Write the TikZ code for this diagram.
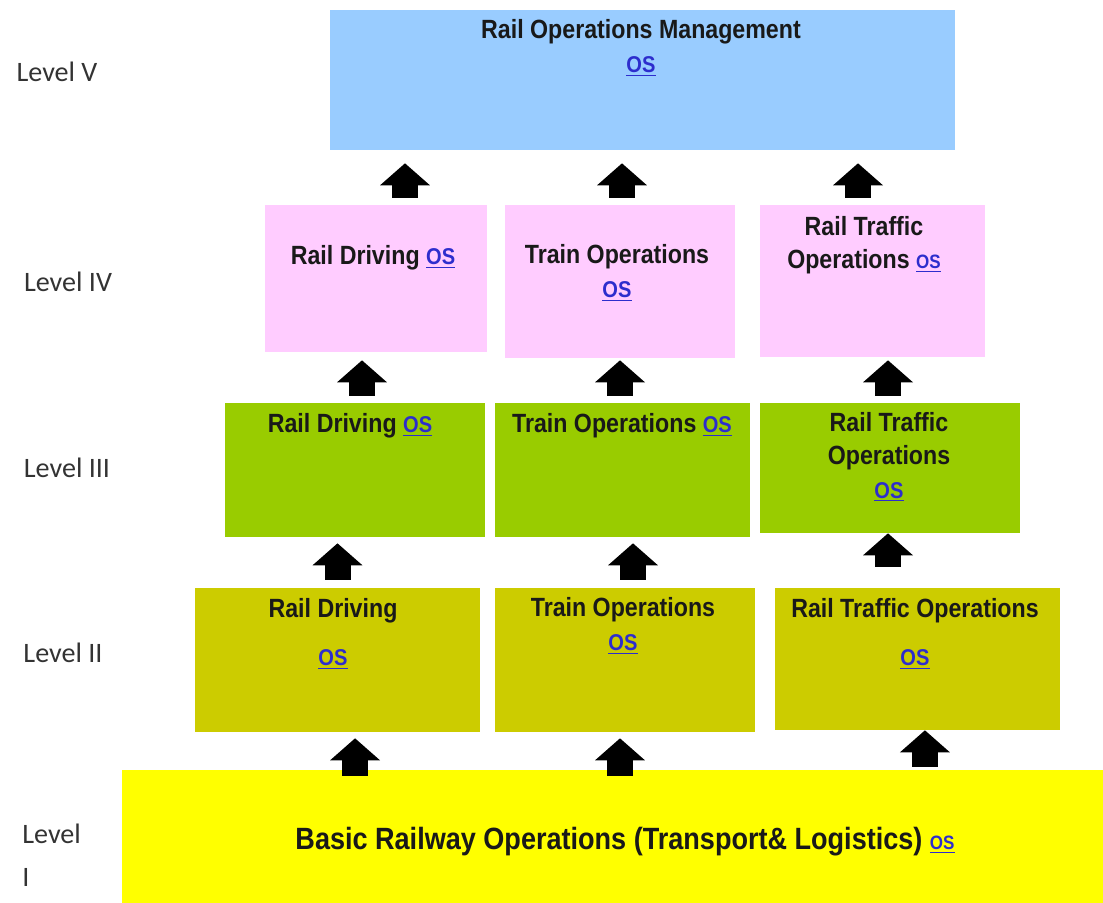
\documentclass[tikz,border=0pt]{standalone}
\usepackage{fontspec}
\setmainfont{Liberation Sans}
\newfontfamily\boxfont[FakeStretch=0.88]{Liberation Sans}
\newfontfamily\lvlfont{Carlito}
\usepackage{xcolor}
\definecolor{lvV}{RGB}{153,204,255}
\definecolor{lvIV}{RGB}{255,204,255}
\definecolor{lvIII}{RGB}{153,204,0}
\definecolor{lvII}{RGB}{204,204,0}
\definecolor{lvI}{RGB}{255,255,0}
\definecolor{oslink}{RGB}{45,45,205}
\usetikzlibrary{positioning,arrows.meta}
\newcommand{\os}{{\fontsize{13pt}{15pt}\selectfont\textcolor{oslink}{\underline{OS}}}}
\newcommand{\ossm}{{\fontsize{11pt}{13pt}\selectfont\textcolor{oslink}{\underline{OS}}}}

\begin{document}
\begin{tikzpicture}[x=0.02cm, y=-0.02cm,
  box/.style={draw=none, inner sep=0pt},
  txt/.style={font=\boxfont\bfseries\fontsize{15pt}{19pt}\selectfont, align=center, inner sep=0pt, text=black!90},
  bigtxt/.style={txt, font=\boxfont\bfseries\fontsize{17.5pt}{20pt}\selectfont},
  lvl/.style={font=\lvlfont\fontsize{16pt}{24pt}\selectfont, text=black!80, inner sep=0pt},
  blk/.style={-{Triangle[width=1cm, length=0.44cm, line width=0pt]}, line width=0.52cm, black}]
\useasboundingbox (0,0) rectangle (1103,903);
% level V
\node[box, fill=lvV, minimum width=12.5cm, minimum height=2.8cm] (rom) at (642.5,80) {};
% level IV
\node[box, fill=lvIV, minimum width=4.44cm, minimum height=2.94cm] (drvIV) at (376,278.5) {};
\node[box, fill=lvIV, minimum width=4.6cm, minimum height=3.06cm] (trnIV) at (620,281.5) {};
\node[box, fill=lvIV, minimum width=4.5cm, minimum height=3.04cm] (trfIV) at (872.5,281) {};
% level III
\node[box, fill=lvIII, minimum width=5.2cm, minimum height=2.68cm] (drvIII) at (355,470) {};
\node[box, fill=lvIII, minimum width=5.1cm, minimum height=2.68cm] (trnIII) at (622.5,470) {};
\node[box, fill=lvIII, minimum width=5.2cm, minimum height=2.6cm] (trfIII) at (890,468) {};
% level II
\node[box, fill=lvII, minimum width=5.7cm, minimum height=2.88cm] (drvII) at (337.5,660) {};
\node[box, fill=lvII, minimum width=5.2cm, minimum height=2.88cm] (trnII) at (625,660) {};
\node[box, fill=lvII, minimum width=5.7cm, minimum height=2.84cm] (trfII) at (917.5,659) {};
% level I
\node[box, fill=lvI, minimum width=19.62cm, minimum height=2.66cm] (bas) at (612.5,836.5) {};

% box texts
\node[txt] (romT) at (641,48) {Rail Operations Management\\\os};
\node[txt] (drvIVT) at (373,258) {Rail Driving \os};
\node[txt] (trnIVT) at (617,273) {Train Operations\\\os};
\node[txt] (trfIVT) at (864,245) {Rail Traffic\\Operations \ossm};
\node[txt] (drvIIIT) at (350,426) {Rail Driving \os};
\node[txt] (trnIIIT) at (622,426) {Train Operations \os};
\node[txt] (trfIIIT) at (889,457) {Rail Traffic\\Operations\\\os};
\node[txt] (drvIIT) at (333,634) {Rail Driving\\[8pt]\os};
\node[txt] (trnIIT) at (623,626) {Train Operations\\\os};
\node[txt] (trfIIT) at (915,634) {Rail Traffic Operations\\[8pt]\os};
\node[bigtxt] (basT) at (625,842) {Basic Railway Operations (Transport\& Logistics) \ossm};

% level names
\node[lvl] (lv5) at (57,72) {Level V};
\node[lvl] (lv4) at (68,282) {Level IV};
\node[lvl] (lv3) at (67,468) {Level III};
\node[lvl] (lv2) at (63,653) {Level II};
\node[lvl, align=left, anchor=north west] (lv1) at (22,824) {Level\\I};

% block arrows, level IV -> V
\draw[blk, shorten <=0.14cm, shorten >=0.26cm] ([xshift=0.58cm]drvIV.north) -- ([xshift=0.58cm]drvIV.north |- rom.south);
\draw[blk, shorten <=0.14cm, shorten >=0.26cm] ([xshift=0.04cm]trnIV.north) -- ([xshift=0.04cm]trnIV.north |- rom.south);
\draw[blk, shorten <=0.14cm, shorten >=0.26cm] ([xshift=-0.29cm]trfIV.north) -- ([xshift=-0.29cm]trfIV.north |- rom.south);
% level III -> IV
\draw[blk, shorten <=0.14cm, shorten >=0.16cm] ([xshift=0.14cm]drvIII.north) -- ([xshift=0.14cm]drvIII.north |- drvIV.south);
\draw[blk, shorten <=0.14cm, shorten >=0.04cm] ([xshift=-0.05cm]trnIII.north) -- ([xshift=-0.05cm]trnIII.north |- trnIV.south);
\draw[blk, shorten <=0.14cm, shorten >=0.06cm] ([xshift=-0.04cm]trfIII.north) -- ([xshift=-0.04cm]trfIII.north |- trfIV.south);
% level II -> III
\draw[blk, shorten <=0.16cm, shorten >=0.12cm] (drvII.north) -- (drvII.north |- drvIII.south);
\draw[blk, shorten <=0.16cm, shorten >=0.12cm] ([xshift=0.16cm]trnII.north) -- ([xshift=0.16cm]trnII.north |- trnIII.south);
\draw[blk, shorten <=0.42cm, shorten >=0cm] ([xshift=-0.59cm]trfII.north) -- ([xshift=-0.59cm]trfII.north |- trfIII.south);
% level I -> II
\draw[blk, shorten <=-0.12cm, shorten >=0.12cm] ([xshift=-5.15cm]bas.north) -- ([xshift=-5.15cm]bas.north |- drvII.south);
\draw[blk, shorten <=-0.12cm, shorten >=0.12cm] ([xshift=0.15cm]bas.north) -- ([xshift=0.15cm]bas.north |- trnII.south);
\draw[blk, shorten <=0.06cm, shorten >=0cm] ([xshift=6.25cm]bas.north) -- ([xshift=6.25cm]bas.north |- trfII.south);
\end{tikzpicture}
\end{document}
